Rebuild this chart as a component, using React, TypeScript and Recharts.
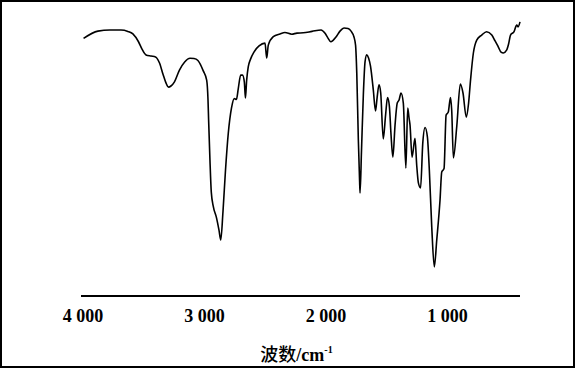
import { LineChart, Line, XAxis, YAxis, Label } from "recharts";

// wavenumber (cm-1) from left to right
const wavenumbers = [
  3995, 3877, 3778, 3687, 3630, 3589, 3543, 3514, 3481, 3440,
  3403, 3369, 3342, 3317, 3296, 3276, 3247, 3206, 3163, 3119,
  3086, 3054, 3010, 2982, 2971, 2966, 2955, 2944, 2928, 2901,
  2881, 2866, 2848, 2827, 2804, 2778, 2755, 2737, 2722, 2702,
  2687, 2672, 2663, 2653, 2640, 2621, 2593, 2551, 2502, 2488,
  2475, 2434, 2379, 2338, 2282, 2239, 2187, 2115, 2041, 2008,
  1984, 1961, 1942, 1918, 1885, 1852, 1819, 1794, 1770, 1757,
  1747, 1734, 1724, 1720, 1708, 1693, 1679, 1665, 1650, 1634,
  1611, 1593, 1580, 1564, 1550, 1529, 1510, 1494, 1479, 1465,
  1450, 1432, 1414, 1399, 1383, 1364, 1343, 1328, 1317, 1309,
  1292, 1268, 1254, 1240, 1222, 1204, 1185, 1166, 1150, 1130,
  1109, 1089, 1062, 1048, 1029, 1012, 994, 976, 966, 952,
  924, 895, 873, 846, 827, 811, 788, 760, 719, 679,
  636, 609, 582, 560, 541, 513, 498, 482, 453, 431,
  420, 404,
];

// transmittance (%), same order
const transmittance = [
  92.0, 94.6, 95.0, 95.0, 94.5, 93.6, 90.8, 88.2, 86.1, 85.7,
  85.4, 83.1, 79.3, 76.1, 74.6, 75.0, 76.5, 80.7, 83.6, 84.9,
  84.8, 84.1, 80.4, 77.1, 70.0, 62.9, 48.6, 37.1, 32.1, 27.9,
  23.6, 20.0, 30.0, 45.0, 58.2, 67.1, 70.5, 70.2, 74.1, 78.9,
  78.9, 76.4, 70.7, 77.1, 81.8, 84.6, 87.1, 89.3, 90.3, 85.0,
  89.6, 92.6, 93.6, 94.1, 93.5, 93.9, 94.0, 94.5, 95.0, 93.8,
  92.1, 90.8, 91.3, 92.5, 94.6, 95.7, 95.5, 94.6, 92.5, 89.6,
  79.6, 55.7, 41.4, 36.8, 52.1, 71.8, 83.6, 86.1, 85.0, 82.1,
  73.6, 66.1, 70.7, 75.4, 72.5, 56.1, 64.6, 70.9, 67.9, 57.5,
  49.6, 61.1, 68.9, 70.0, 72.5, 68.9, 45.7, 67.1, 63.6, 61.1,
  49.6, 56.3, 46.8, 40.4, 38.6, 54.6, 60.2, 56.8, 45.0, 24.6,
  10.4, 20.0, 34.3, 44.3, 45.5, 64.6, 65.7, 70.9, 66.4, 49.3,
  60.7, 75.7, 72.5, 63.9, 68.9, 77.1, 86.7, 91.4, 93.2, 94.4,
  93.2, 91.1, 88.9, 87.1, 86.8, 87.9, 90.0, 93.2, 94.4, 96.8,
  96.1, 97.9,
];

const xTicks = [4000, 3000, 2000, 1000];

const data = wavenumbers.map((w, i) => ({ w, t: transmittance[i] }));

const fmtTick = (v: number) => {
  const s = String(v);
  return s.slice(0, s.length - 3) + " " + s.slice(-3);
};

function AxisTitle(props: any) {
  const vb = props.viewBox || {};
  const cx = vb.x + vb.width / 2 - 4;
  return (
    <text
      x={cx}
      y={361}
      textAnchor="middle"
      fill="#000"
      fontSize={18}
      fontWeight="bold"
      fontFamily="'Liberation Serif', 'Noto Sans CJK SC', serif"
    >
      <tspan fontFamily="'Noto Sans CJK SC'" fontWeight={500} fontSize={18}>
        波数
      </tspan>
      <tspan>/cm</tspan>
      <tspan fontSize={10} dy={-8}>
        -1
      </tspan>
    </text>
  );
}

export default function App() {
  return (
    <div
      style={{
        position: "absolute",
        left: 0,
        top: 0,
        width: 575,
        height: 369,
        background: "#fff",
      }}
    >
      <div
        style={{
          position: "absolute",
          left: 0,
          top: 0,
          width: 575,
          height: 368,
          border: "2px solid #000",
          boxSizing: "border-box",
        }}
      />
      <LineChart
        width={575}
        height={369}
        data={data}
        margin={{ top: 16, right: 55, bottom: 43, left: 81 }}
      >
        <XAxis
          dataKey="w"
          type="number"
          domain={[404, 4016]}
          reversed
          ticks={xTicks}
          tickFormatter={fmtTick}
          tickLine={false}
          tickMargin={7}
          height={30}
          axisLine={{ stroke: "#000", strokeWidth: 2 }}
          tick={{
            fill: "#000",
            fontSize: 18,
            fontWeight: "bold",
            fontFamily: "'Liberation Serif', serif",
          }}
          interval={0}
        >
          <Label content={AxisTitle} />
        </XAxis>
        <YAxis hide domain={[0, 100]} />
        <Line
          dataKey="t"
          type="monotone"
          stroke="#000"
          strokeWidth={1.6}
          dot={false}
          isAnimationActive={false}
        />
      </LineChart>
    </div>
  );
}
